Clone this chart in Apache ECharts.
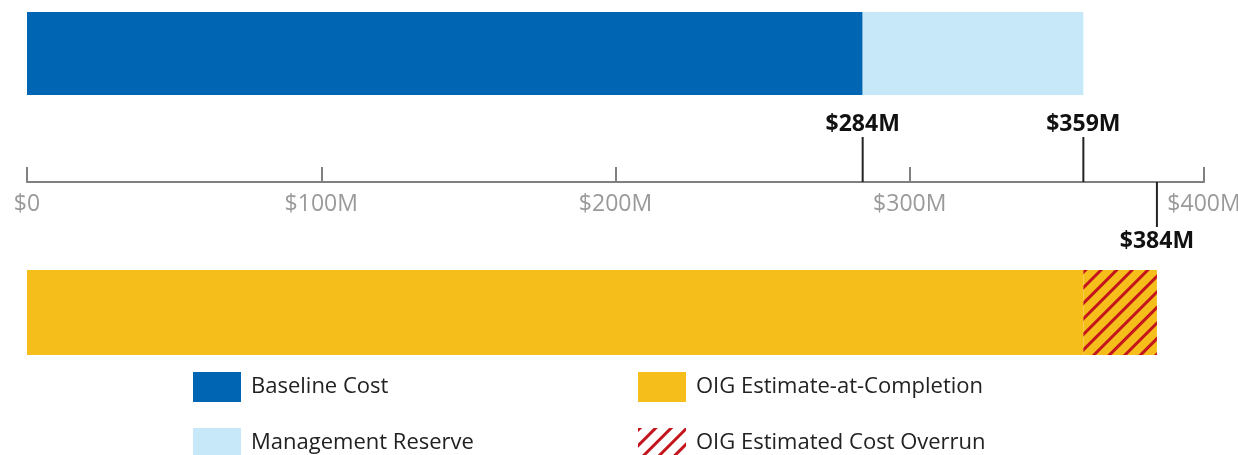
<!DOCTYPE html>
<html>
<head>
<meta charset="utf-8">
<script src="https://cdn.jsdelivr.net/npm/echarts@6/dist/echarts.min.js"></script>
<style>
  html, body { margin: 0; padding: 0; background: #fff; }
  #chart { width: 1238px; height: 455px; }
</style>
</head>
<body>
<div id="chart"></div>
<script>
// 数据
const baselineCost = [284];
const managementReserve = [75];      // 359 - 284
const oigEstimate = [359];
const costOverrun = [25];            // 384 - 359
const markers = [
  { value: 284, dir: 1 },
  { value: 359, dir: 1 },
  { value: 384, dir: -1 }
];
const tickValues = [0, 100, 200, 300, 400];

const chart = echarts.init(document.getElementById('chart'));

const hatch = {
  symbol: 'rect',
  symbolSize: 1,
  dashArrayX: [[1, 0]],
  dashArrayY: [2.5, 8],
  rotation: -Math.PI / 4,
  color: '#c4141c'
};

const font = '"Open Sans", "Noto Sans", sans-serif';
const left = 27, right = 34;

// 图例: 每项单独一个, 避免换列
const legendItem = (x, y, item) => ({
  left: x, top: y, orient: 'horizontal', padding: 0,
  itemWidth: 48, itemHeight: 30, icon: 'rect',
  textStyle: { fontSize: 22, color: '#222', fontFamily: font, padding: [0, 0, 0, 5] },
  data: [item]
});

const option = {
  animation: false,
  textStyle: { fontFamily: font },
  grid: [
    { left, right, top: 12, height: 83, outerBoundsMode: 'none' },
    { left, right, top: 122, height: 60, outerBoundsMode: 'none' },
    { left, right, top: 270, height: 85, outerBoundsMode: 'none' }
  ],
  xAxis: [
    { gridIndex: 0, type: 'value', min: 0, max: 400, show: false },
    {
      gridIndex: 1, type: 'value', min: 0, max: 400, interval: 100,
      axisLine: { show: true, lineStyle: { color: '#808080', width: 2 } },
      axisTick: { show: true, inside: true, length: 15, lineStyle: { color: '#808080', width: 2 } },
      splitLine: { show: false },
      axisLabel: {
        margin: 11, color: '#9a9a9a', fontSize: 23, fontFamily: font,
        formatter: v => tickValues.includes(v) ? (v === 0 ? '$0' : '$' + v + 'M') : ''
      }
    },
    { gridIndex: 2, type: 'value', min: 0, max: 400, show: false }
  ],
  yAxis: [
    { gridIndex: 0, type: 'category', data: ['plan'], show: false },
    { gridIndex: 1, type: 'value', min: 0, max: 1, show: false },
    { gridIndex: 2, type: 'category', data: ['oig'], show: false }
  ],
  legend: [
    legendItem(193, 372, 'Baseline Cost'),
    legendItem(193, 428, 'Management Reserve'),
    legendItem(638, 372, 'OIG Estimate-at-Completion'),
    legendItem(638, 428, { name: 'OIG Estimated Cost Overrun', itemStyle: { color: '#fff', decal: hatch } })
  ],
  series: [
    {
      name: 'Baseline Cost', type: 'bar', stack: 'plan',
      xAxisIndex: 0, yAxisIndex: 0, barWidth: '100%',
      itemStyle: { color: '#0066b3' }, data: baselineCost
    },
    {
      name: 'Management Reserve', type: 'bar', stack: 'plan',
      xAxisIndex: 0, yAxisIndex: 0, barWidth: '100%',
      itemStyle: { color: '#c7e8f9' }, data: managementReserve
    },
    {
      name: 'OIG Estimate-at-Completion', type: 'bar', stack: 'oig',
      xAxisIndex: 2, yAxisIndex: 2, barWidth: '100%',
      itemStyle: { color: '#f5be1a' }, data: oigEstimate
    },
    {
      name: 'OIG Estimated Cost Overrun', type: 'bar', stack: 'oig',
      xAxisIndex: 2, yAxisIndex: 2, barWidth: '100%',
      itemStyle: { color: '#f5be1a', decal: hatch }, data: costOverrun
    },
    {
      // 刻度标记线和数值
      type: 'custom', xAxisIndex: 1, yAxisIndex: 1, clip: false,
      data: markers.map(m => [m.value, m.dir]),
      renderItem: (params, api) => {
        const v = api.value(0), dir = api.value(1);
        const p0 = api.coord([v, 0]);
        const p1 = api.coord([v, dir * 0.75]);
        const pt = api.coord([v, dir * 0.96]);
        return {
          type: 'group',
          children: [
            { type: 'line', shape: { x1: p0[0], y1: p0[1], x2: p1[0], y2: p1[1] },
              style: { stroke: '#222', lineWidth: 2 } },
            { type: 'text', x: pt[0], y: pt[1] + (dir < 0 ? 2 : 0),
              style: { text: '$' + v + 'M', fill: '#111', font: 'bold 23px ' + font,
                       align: 'center', verticalAlign: 'middle' } }
          ]
        };
      }
    }
  ]
};

option && chart.setOption(option);
</script>
</body>
</html>
